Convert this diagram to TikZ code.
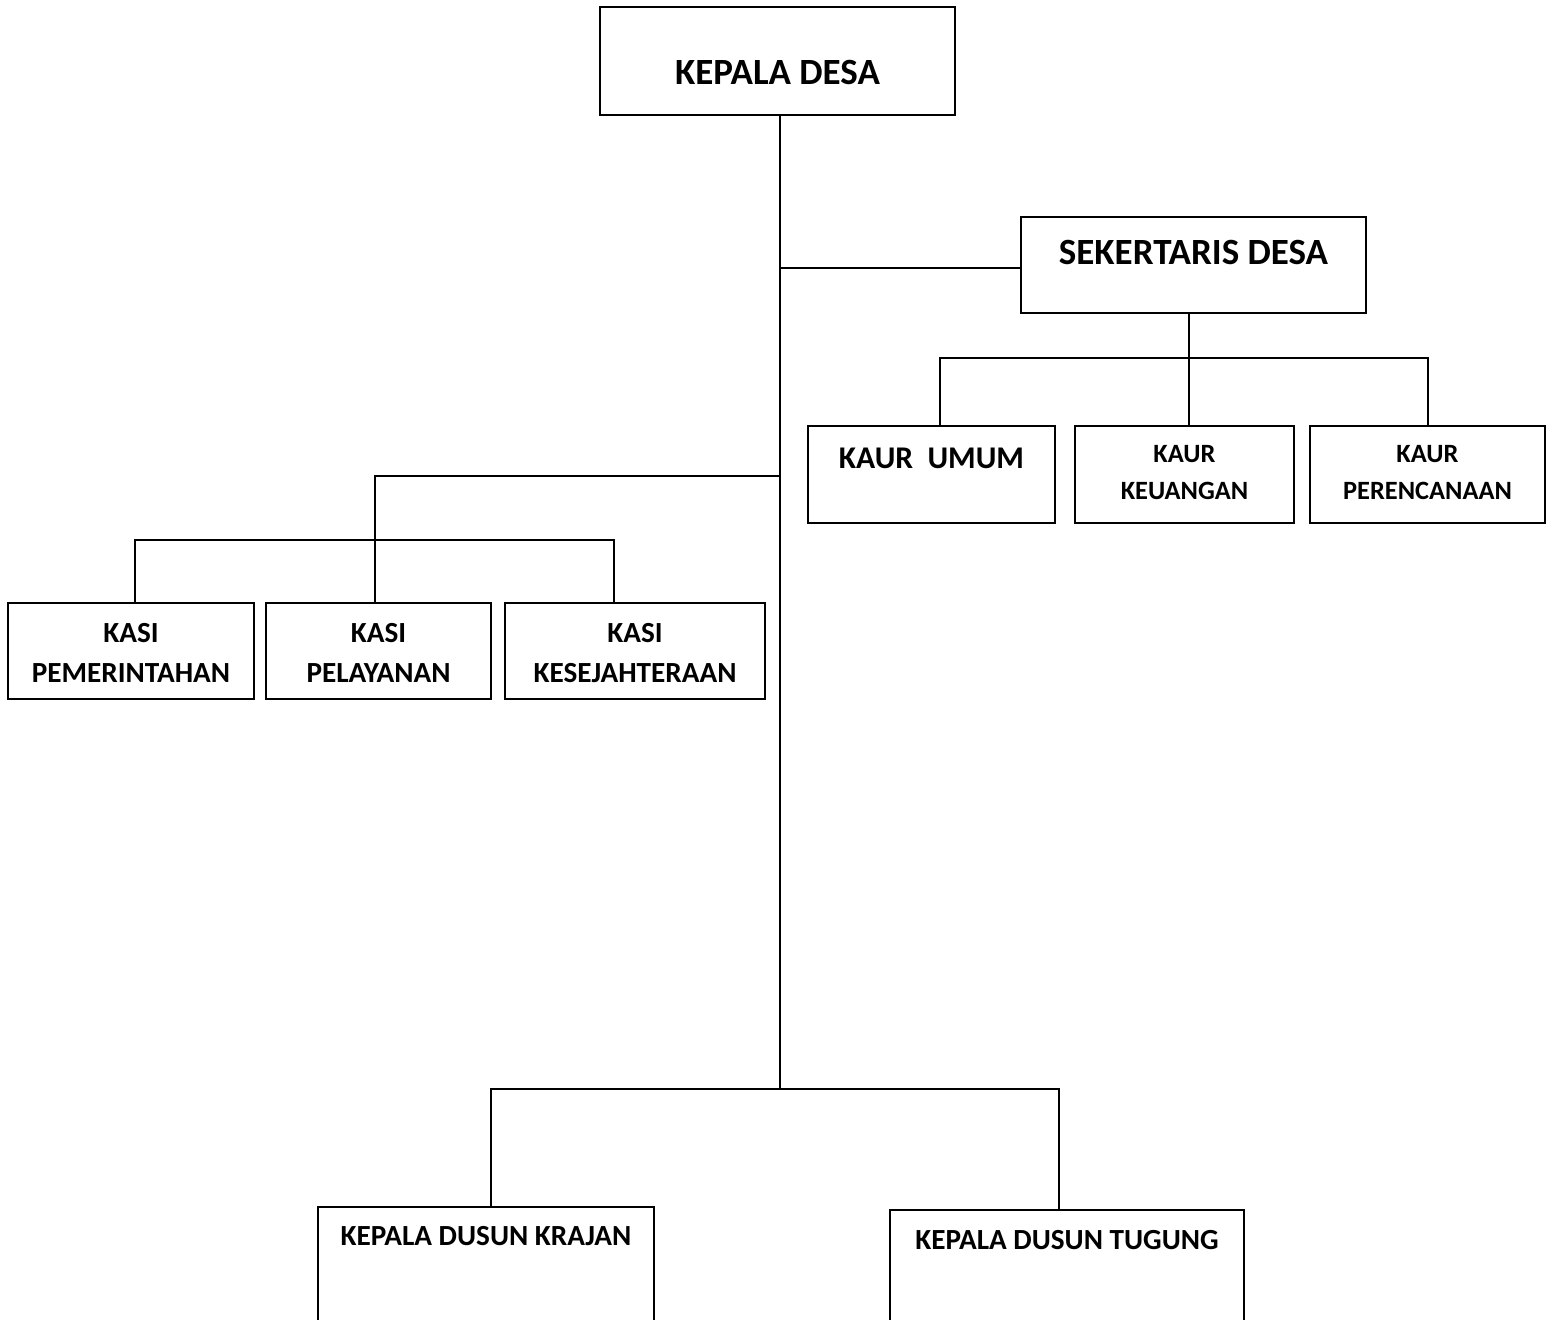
\documentclass[tikz,border=0pt]{standalone}
\usepackage{fontspec}
\setmainfont{Carlito}
\usetikzlibrary{calc}

\begin{document}
\begin{tikzpicture}[x=0.5pt,y=-0.5pt,line width=1pt]
\tikzstyle{box}=[draw=black,rectangle,inner sep=0pt]
\tikzstyle{lbl}=[align=center,inner sep=0pt]
\tikzstyle{big}=[font=\bfseries\fontsize{18.5}{22}\selectfont]
\tikzstyle{mid}=[font=\bfseries\fontsize{14.6}{20}\selectfont]
\tikzstyle{small}=[font=\bfseries\fontsize{13.2}{18.5}\selectfont]
\clip (0,0) rectangle (1554,1319);
\fill[white] (0,0) rectangle (1554,1319);
\node[box,minimum width=177.5pt,minimum height=54pt,label={[lbl,big,yshift=-5.5pt]center:KEPALA DESA}] (kades) at (777.5,61) {};
\node[box,minimum width=172.5pt,minimum height=48pt,label={[lbl,big,yshift=6.5pt]center:SEKERTARIS DESA}] (sekdes) at (1193.5,265) {};
\node[box,minimum width=123.5pt,minimum height=48.5pt,label={[lbl,font=\bfseries\fontsize{15.8}{20}\selectfont,yshift=8.25pt]center:KAUR\ \ UMUM}] (umum) at (931.5,474.5) {};
\node[box,minimum width=109.5pt,minimum height=48.5pt,label={[lbl,small,yshift=1pt]center:KAUR\\KEUANGAN}] (uang) at (1184.5,474.5) {};
\node[box,minimum width=117.5pt,minimum height=48.5pt,label={[lbl,small,yshift=1pt]center:KAUR\\PERENCANAAN}] (renc) at (1427.5,474.5) {};
\node[box,minimum width=123pt,minimum height=48pt,label={[lbl,mid,yshift=-1pt]center:KASI\\PEMERINTAHAN}] (pem) at (131,651) {};
\node[box,minimum width=112.5pt,minimum height=48pt,label={[lbl,mid,yshift=-1pt]center:KASI\\PELAYANAN}] (pel) at (378.5,651) {};
\node[box,minimum width=130pt,minimum height=48pt,label={[lbl,mid,yshift=-1pt]center:KASI\\KESEJAHTERAAN}] (kes) at (635,651) {};
\node[box,minimum width=168pt,minimum height=66.5pt,label={[lbl,mid,yshift=18.75pt]center:KEPALA DUSUN KRAJAN}] (krajan) at (486,1273.5) {};
\node[box,minimum width=177pt,minimum height=65pt,label={[lbl,mid,yshift=17.5pt]center:KEPALA DUSUN TUGUNG}] (tugung) at (1067,1275) {};

\coordinate (top) at ([xshift=1.25pt]kades.south);
\coordinate (bj) at (780,1089);
\coordinate (lj) at (780,476);
\coordinate (kbar) at (375,540);
\coordinate (sbar) at ($(sekdes.south)+(-4.5,44)$);

\draw (top) -- (bj);
\draw ([yshift=-1.5pt]sekdes.west) -- ([yshift=-1.5pt]sekdes.west -| bj);
\draw (sekdes.south -| sbar) -- (sbar);
\draw ([xshift=4.25pt]umum.north) |- (sbar) -| (renc.north);
\draw (sbar) -- (sbar |- uang.north);
\draw (lj) -| (kbar);
\draw (kbar) -- (kbar |- pel.north);
\draw ([xshift=2pt]pem.north) |- (kbar) -| ([xshift=-10.5pt]kes.north);
\draw ([xshift=2.5pt]krajan.north) |- (bj) -| ([xshift=-4pt]tugung.north);
\end{tikzpicture}
\end{document}
